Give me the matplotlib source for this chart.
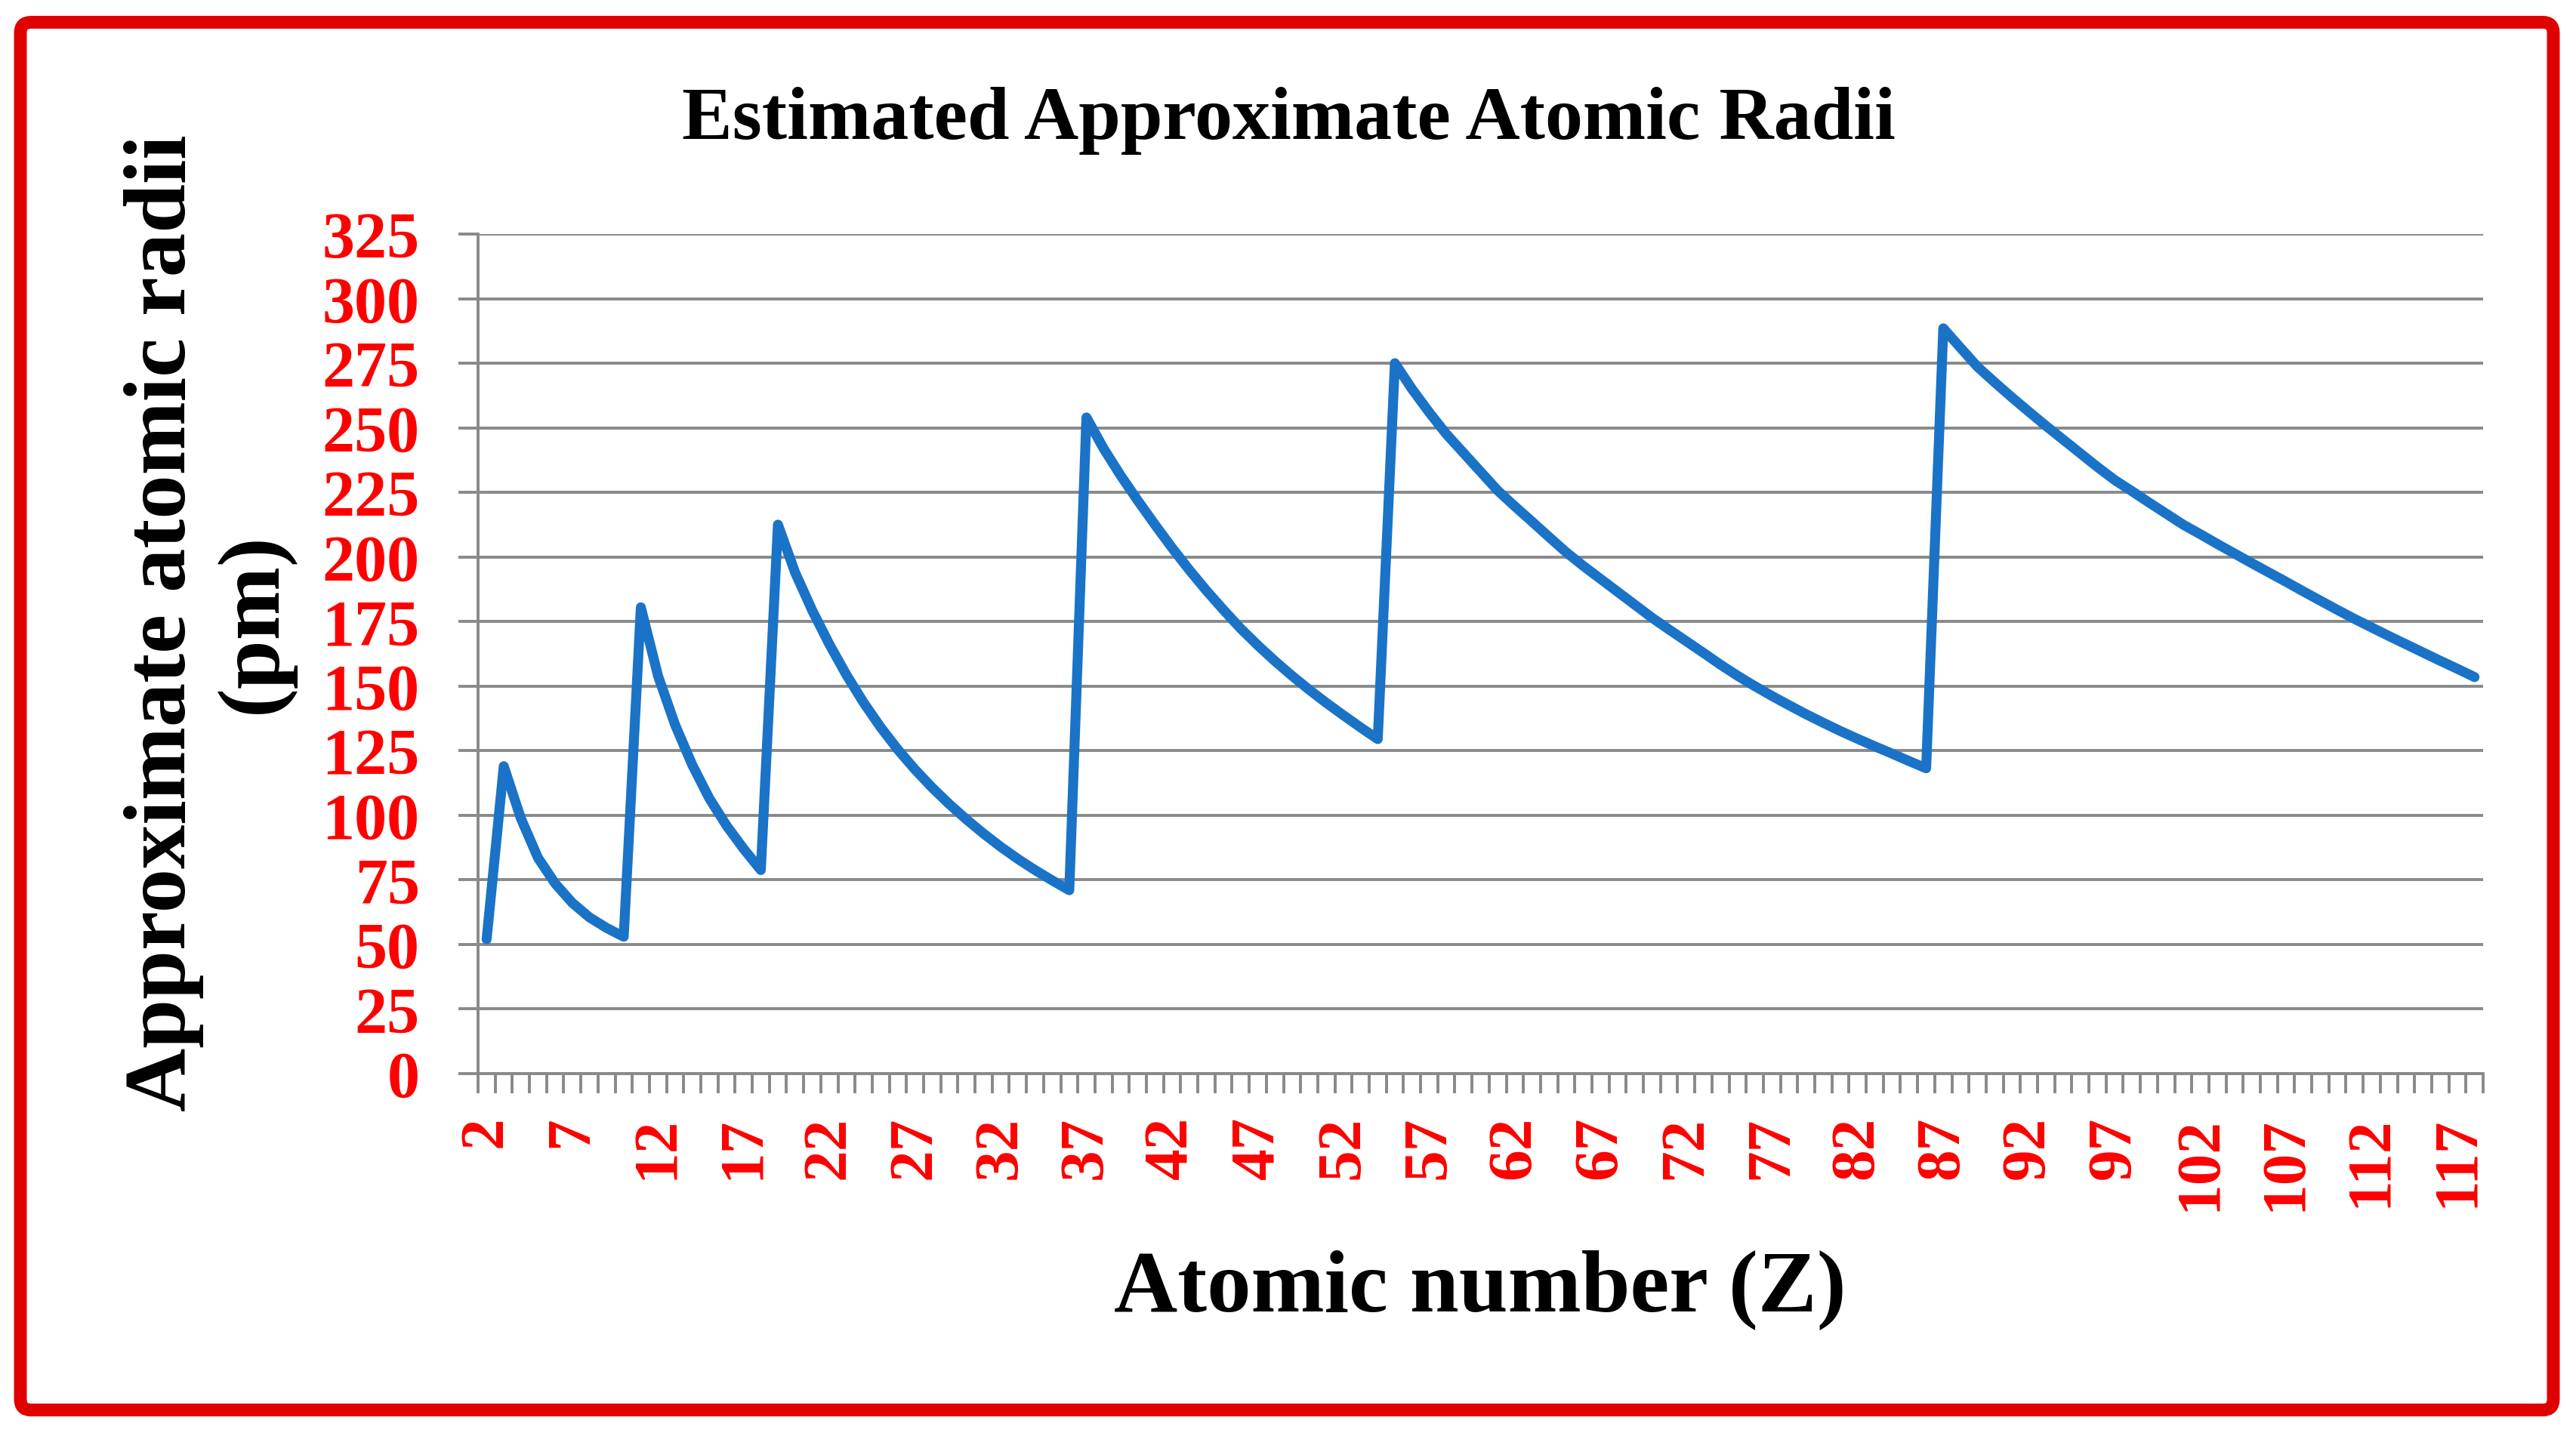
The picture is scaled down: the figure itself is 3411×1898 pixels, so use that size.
import matplotlib
matplotlib.use("Agg")
import matplotlib.pyplot as plt
from matplotlib.patches import FancyBboxPatch
from matplotlib.transforms import IdentityTransform


atomic_numbers = list(range(2, 119))

# estimated radii (pm), one row per period
radii = [
    52,
    119, 98.8, 83.5, 73.6, 66.1, 60.5, 56.4, 53,
    180.5, 154, 135, 119.5, 106.5, 96, 87, 78.8,
    212.5, 194.0, 179.3, 166.2, 154.3, 143.6, 134.0, 125.4, 117.7,
    110.7, 104.3, 98.4, 92.9, 87.8, 83.1, 78.8, 74.8, 71.0,
    254, 242, 231.5, 221.8, 212.5, 203.5, 195, 187, 179.5,
    172.3, 165.8, 159.7, 154.0, 148.6, 143.5, 138.7, 134.0, 129.5,
    275, 265, 256, 247.6, 240.3, 233.0, 225.7, 219.6, 213.7, 207.7,
    201.8, 196.5, 191.5, 186.5, 181.5, 176.5, 171.9, 167.4, 162.9, 158.3,
    154.0, 150.0, 146.2, 142.6, 139.1, 135.8, 132.6, 129.6, 126.7, 123.9,
    121.0, 118.2,
    288.5, 281, 273.6, 267.6, 261.8, 256.2, 250.7, 245.4, 240.1, 234.8,
    229.8, 225.5, 221.1, 216.8, 212.5, 208.8, 205.0, 201.3, 197.6, 194.0,
    190.4, 186.7, 183.1, 179.5, 176.0, 172.7, 169.4, 166.2, 163.0, 159.8,
    156.7, 153.5,
]

y_ticks = list(range(0, 326, 25))

plt.rcParams["font.family"] = ["Liberation Serif", "DejaVu Serif"]
plt.rcParams["font.weight"] = "bold"

W, H = 3412, 1899
DPI = 100
GRID = "#898989"
RED = "#ff0000"

fig = plt.figure(figsize=(W / DPI, H / DPI), dpi=DPI)
ax = fig.add_axes([633 / W, 1 - 1423 / H, 2655 / W, 1112 / H])

xs = list(range(len(atomic_numbers)))
ax.plot(xs, radii, color="#1a73c7", lw=9.5,
        solid_joinstyle="round", solid_capstyle="round", zorder=3)

ax.set_xlim(-0.5, len(atomic_numbers) - 0.5)
ax.set_ylim(0, 325)

ax.set_yticks(y_ticks)
ax.set_yticklabels([str(v) for v in y_ticks])
ax.set_xticks(xs[::5])
ax.set_xticklabels([str(z) for z in atomic_numbers[::5]], rotation=90)
ax.set_xticks([i - 0.5 for i in range(len(atomic_numbers) + 1)], minor=True)

ax.yaxis.grid(True, color=GRID, lw=2.8)
ax.set_axisbelow(True)
for side in ["top", "right"]:
    ax.spines[side].set_visible(False)
for side in ["left", "bottom"]:
    ax.spines[side].set_color(GRID)
    ax.spines[side].set_linewidth(2.8)

ax.tick_params(axis="y", length=18.7, width=2.8, color=GRID,
               labelsize=62, labelcolor=RED, pad=37)
ax.tick_params(axis="x", which="major", length=0,
               labelsize=60, labelcolor=RED, pad=40)
ax.tick_params(axis="x", which="minor", length=18.7, width=2.8, color=GRID)

fig.text(1706 / W, 1 - 160 / H, "Estimated Approximate Atomic Radii",
         ha="center", va="center", fontsize=72, fontweight="bold")
fig.text(277 / W, 1 - 825 / H, "Approximate atomic radii\n(pm)",
         rotation=90, ha="center", va="center", multialignment="center",
         fontsize=84, fontweight="bold", linespacing=1.18)
fig.text(1960 / W, 1 - 1708 / H, "Atomic number (Z)",
         ha="center", va="center", fontsize=84, fontweight="bold")

border = FancyBboxPatch((27, H - 1868.5), 3354, 1838,
                        boxstyle="round,pad=0,rounding_size=14",
                        transform=IdentityTransform(),
                        fill=False, edgecolor="#e00000", lw=12.2)
fig.add_artist(border)

fig.savefig("out.png", dpi=DPI, facecolor="white")
plt.close(fig)
